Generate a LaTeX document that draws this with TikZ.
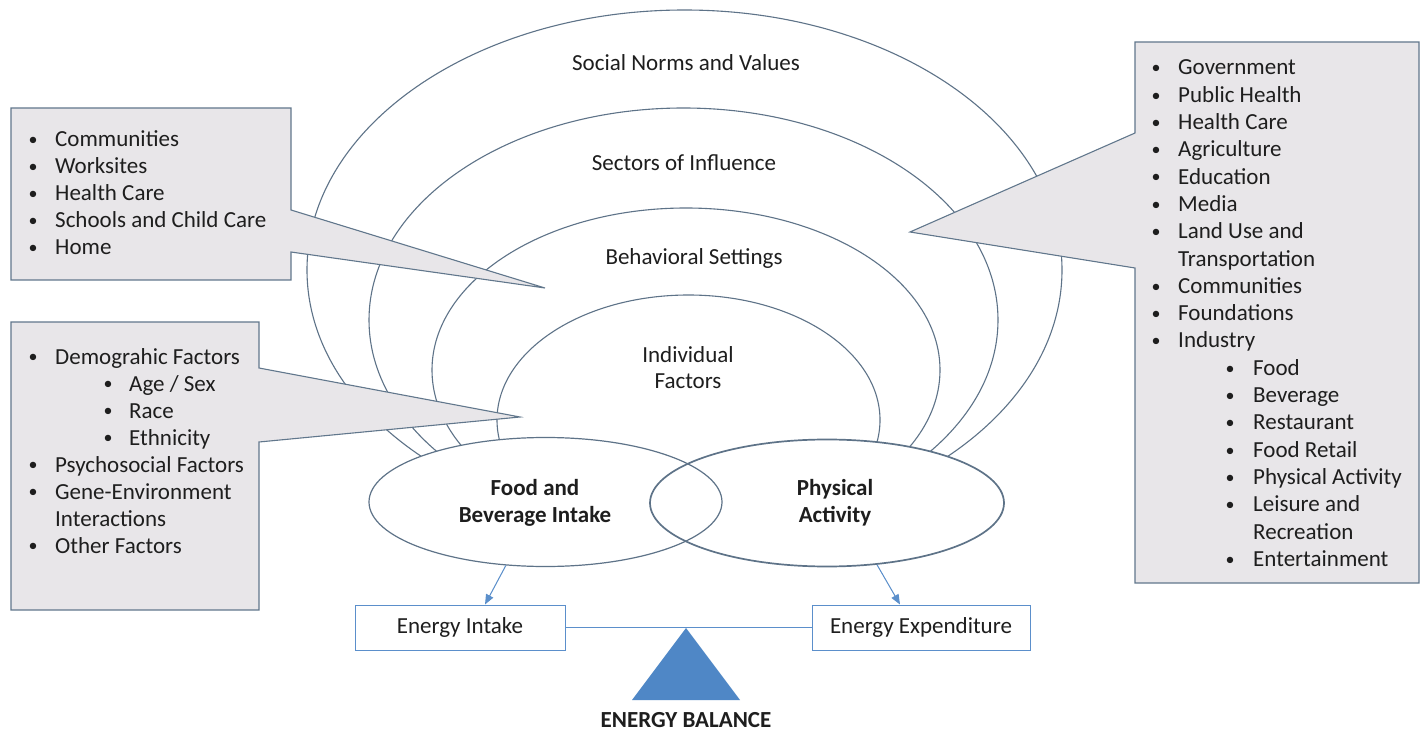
\documentclass[tikz,border=0pt]{standalone}
\usepackage{fontspec}
\setmainfont{Carlito}
\usetikzlibrary{arrows.meta,shapes.geometric,calc}
\definecolor{arcc}{HTML}{5E7388}
\definecolor{boxfill}{HTML}{E8E6E9}
\definecolor{boxline}{HTML}{61778C}
\definecolor{blu}{HTML}{5B8FCB}
\definecolor{tri}{HTML}{4F87C6}
\definecolor{txtc}{HTML}{1E1E1E}
\newcommand\bl[5]{\node[bul] (#1b) at (#2,#4-1.2) {\textbullet}; \node[txt] (#1) at (#3,#4) {#5};}
\begin{document}
\begin{tikzpicture}[x=1pt,y=-1pt,
  txt/.style={font=\fontsize{23}{27}\selectfont, text=txtc, inner sep=0pt, anchor=base west},
  bul/.style={font=\fontsize{18}{27}\selectfont, text=txtc, inner sep=0pt, anchor=base},
  lbl/.style={font=\fontsize{23}{27}\selectfont, text=txtc, inner sep=0pt, anchor=base},
  blbl/.style={font=\fontsize{23}{27}\selectfont\bfseries, text=txtc, inner sep=0pt, anchor=base},
  arch/.style={draw=arcc, line width=1.1pt},
  callout/.style={draw=boxline, fill=boxfill, line width=1.1pt, line join=miter},
  ebox/.style={draw=blu, line width=1pt, fill=white, inner sep=0pt, font=\fontsize{23}{27}\selectfont, text=txtc},
  ell/.style={draw=arcc, ellipse, inner sep=0pt},
  arr/.style={draw=blu, line width=1pt, -{Triangle[length=10pt,width=8pt]}, fill=blu},
]
\useasboundingbox[fill=white] (0,0) rectangle (1428,730);

% nested arches
\begin{scope}
  \clip (0,0) rectangle (1428,470);
  \draw[arch] (684.5,270) ellipse [x radius=377.5, y radius=260];
  \draw[arch] (683.5,320) ellipse [x radius=314.5, y radius=212];
  \draw[arch] (686,370) ellipse [x radius=254, y radius=162];
  \draw[arch] (688.5,420) ellipse [x radius=191.5, y radius=125];
\end{scope}

% bottom ellipses
\path[fill=white] (545.5,502) ellipse [x radius=176.5, y radius=64.5]
                  (827,503) ellipse [x radius=177, y radius=63.5];
\node[ell, line width=1.2pt, minimum width=353pt, minimum height=129pt] (food) at (545.5,502) {};
\node[ell, line width=1.7pt, minimum width=354pt, minimum height=127pt] (phys) at (827,503) {};

% arch labels
\node[lbl] (sn) at (686,71) {Social Norms and Values};
\node[lbl] (si) at (684,171) {Sectors of Influence};
\node[lbl] (bs) at (694,265) {Behavioral Settings};
\node[lbl] (if1) at (688,362) {Individual};
\node[lbl] (if2) at (688,388) {Factors};
\node[blbl] (fb1) at (535,495) {Food and};
\node[blbl] (fb2) at (535,522) {Beverage Intake};
\node[blbl] (pa1) at (835,495) {Physical};
\node[blbl] (pa2) at (835,522) {Activity};

% callouts
\path[callout] (11,108) -- (291,108) -- (291,210) -- (545,288) -- (291,252) -- (291,280) -- (11,280) -- cycle;
\path[callout] (11,322) -- (259,322) -- (259,368) -- (520,417) -- (259,442) -- (259,610) -- (11,610) -- cycle;
\path[callout] (1135,42) -- (1419,42) -- (1419,583) -- (1135,583) -- (1135,268) -- (910,232) -- (1135,133) -- cycle;

% left box 1
\bl{a1}{33}{55}{147}{Communities}
\bl{a2}{33}{55}{174}{Worksites}
\bl{a3}{33}{55}{201}{Health Care}
\bl{a4}{33}{55}{228}{Schools and Child Care}
\bl{a5}{33}{55}{255}{Home}

% left box 2
\bl{b1}{33}{55}{364}{Demograhic Factors}
\bl{b2}{108}{129}{391}{Age / Sex}
\bl{b3}{108}{129}{418}{Race}
\bl{b4}{108}{129}{445}{Ethnicity}
\bl{b5}{33}{55}{472}{Psychosocial Factors}
\bl{b6}{33}{55}{499}{Gene-Environment}
\node[txt] (b6c) at (55,526) {Interactions};
\bl{b7}{33}{55}{553}{Other Factors}

% right box
\bl{c1}{1156}{1178}{75}{Government}
\bl{c2}{1156}{1178}{102.3}{Public Health}
\bl{c3}{1156}{1178}{129.6}{Health Care}
\bl{c4}{1156}{1178}{156.9}{Agriculture}
\bl{c5}{1156}{1178}{184.2}{Education}
\bl{c6}{1156}{1178}{211.5}{Media}
\bl{c7}{1156}{1178}{238.8}{Land Use and}
\node[txt] (c7c) at (1178,266.1) {Transportation};
\bl{c8}{1156}{1178}{293.4}{Communities}
\bl{c9}{1156}{1178}{320.7}{Foundations}
\bl{c10}{1156}{1178}{348}{Industry}
\bl{c11}{1230}{1253}{375.3}{Food}
\bl{c12}{1230}{1253}{402.6}{Beverage}
\bl{c13}{1230}{1253}{429.9}{Restaurant}
\bl{c14}{1230}{1253}{457.2}{Food Retail}
\bl{c15}{1230}{1253}{484.5}{Physical Activity}
\bl{c16}{1230}{1253}{511.8}{Leisure and}
\node[txt] (c16c) at (1253,539.1) {Recreation};
\bl{c17}{1230}{1253}{566.4}{Entertainment}

% energy balance
\node[ebox, minimum width=210pt, minimum height=45pt] (ei) at (460,627.5) {Energy Intake};
\node[ebox, minimum width=218pt, minimum height=45pt] (ee) at (921,627.5) {Energy Expenditure};
\draw[blu, line width=1pt] (ei.east) -- (ee.west);
\coordinate (apex) at (686,628);
\fill[tri] (apex) -- (740,700) -- (632,700) -- cycle;
\node[blbl] (eb) at (686,727) {ENERGY BALANCE};

\draw[arr] (food.238) -- ($(ei.north)+(25,0)$);
\draw[arr] (phys.309) -- ($(ee.north)+(-21,0)$);
\end{tikzpicture}
\end{document}
